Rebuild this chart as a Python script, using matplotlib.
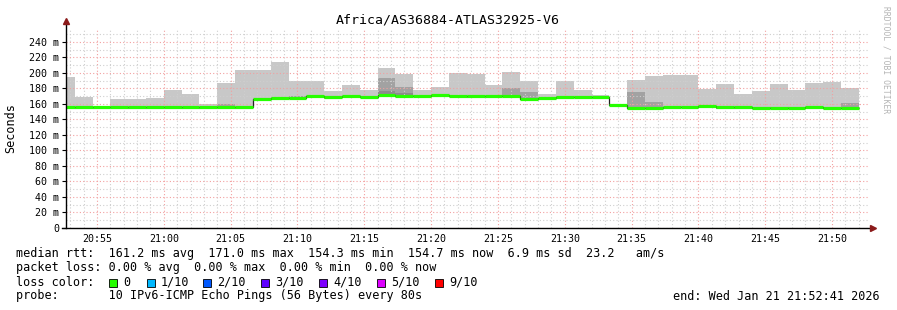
import numpy as np
import pandas as pd
import matplotlib
matplotlib.use('Agg')
import matplotlib.pyplot as plt
from matplotlib.patches import Rectangle

# the chart data (ms), one value per 80 s step
title = 'Africa/AS36884-ATLAS32925-V6'
t_start = pd.Timestamp('2026-01-21 20:52:41')
t_end = pd.Timestamp('2026-01-21 21:52:41')
first_step = pd.Timestamp('2026-01-21 20:52:00')
step_seconds = 80

rtt_median = [155.7, 155.5, 155.5, 155.5, 155.5, 155.5, 155.5, 155.5, 155.5, 155.5,
              155.5, 165.8, 168.0, 168.2, 169.7, 169.4, 169.7, 169.0, 171.0, 170.0,
              170.0, 171.0, 170.0, 169.7, 169.7, 170.7, 166.0, 167.4, 169.4, 168.8,
              168.5, 158.7, 154.3, 155.0, 155.7, 155.7, 157.0, 155.7, 155.5, 155.3,
              155.0, 155.0, 155.7, 155.0, 154.7]
rtt_min = [154.0, 154.0, 154.0, 154.0, 154.0, 154.0, 154.0, 154.0, 154.0, 154.0,
           154.0, 164.5, 165.0, 166.5, 168.0, 166.5, 168.0, 167.5, 169.5, 168.5,
           168.5, 169.5, 168.5, 168.0, 168.0, 169.0, 164.5, 166.0, 168.0, 167.3,
           167.0, 157.0, 153.0, 153.5, 154.2, 154.2, 155.5, 153.5, 154.0, 153.8,
           153.5, 153.5, 154.2, 153.5, 153.2]
rtt_max = [194.8, 169.5, 157.0, 166.5, 166.5, 167.7, 178.0, 173.0, 160.0, 187.0,
           204.0, 204.0, 214.0, 190.0, 189.0, 177.0, 184.5, 178.0, 206.5, 198.7,
           178.0, 182.0, 200.0, 198.7, 184.5, 201.0, 189.0, 172.5, 189.0, 178.5,
           171.6, 160.0, 191.4, 196.0, 197.4, 197.4, 179.8, 185.8, 173.0, 177.0,
           185.8, 178.5, 187.0, 188.4, 180.6]
# inner smoke bands (darker grey)
rtt_p9 = [156.5, 156.5, 156.5, 156.5, 156.5, 156.5, 156.5, 156.5, 156.5, 160.0,
          156.5, 166.5, 169.0, 170.0, 170.5, 170.0, 170.5, 170.0, 194.0, 182.0,
          171.0, 172.0, 171.0, 170.5, 170.5, 180.6, 175.5, 168.0, 170.0, 169.5,
          169.0, 159.5, 176.0, 162.0, 156.5, 156.5, 158.0, 156.5, 156.5, 156.0,
          156.0, 156.0, 156.5, 156.0, 161.0]
rtt_p8 = [156.0, 156.0, 156.0, 156.0, 156.0, 156.0, 156.0, 156.0, 156.0, 156.0,
          156.0, 166.0, 168.5, 169.0, 170.0, 169.5, 170.0, 169.5, 177.0, 174.0,
          170.5, 171.5, 170.5, 170.0, 170.0, 171.0, 167.0, 167.5, 169.5, 169.0,
          168.5, 159.0, 155.0, 155.5, 156.0, 156.0, 157.5, 156.0, 156.0, 155.5,
          155.5, 155.5, 156.0, 155.5, 155.0]

summary = 'median rtt:  161.2 ms avg  171.0 ms max  154.3 ms min  154.7 ms now  6.9 ms sd  23.2   am/s'
loss_line = 'packet loss: 0.00 % avg  0.00 % max  0.00 % min  0.00 % now'
probe_line = 'probe:       10 IPv6-ICMP Echo Pings (56 Bytes) every 80s'
end_line = 'end: Wed Jan 21 21:52:41 2026'
loss_labels = ['0', '1/10', '2/10', '3/10', '4/10', '5/10', '9/10']
loss_colors = ['#26ff00', '#00b8ff', '#0059ff', '#5e00ff', '#7e00ff', '#dd00ff', '#ff0000']
loss_box_x = [109, 147, 203, 261, 319, 377, 435]

yticks = list(range(0, 241, 20))
ytick_labels = ['0'] + ['%d m' % v for v in yticks[1:]]

# time -> minutes since start of window
def minutes(ts):
    return (ts - t_start).total_seconds() / 60.0

edges = pd.date_range(first_step, periods=len(rtt_median) + 1, freq='%ds' % step_seconds)
x_edges = np.array([minutes(t) for t in edges])
span = minutes(t_end)

major_times = pd.date_range('2026-01-21 20:55', '2026-01-21 21:50', freq='5min')
minor_times = pd.date_range('2026-01-21 20:53', '2026-01-21 21:52', freq='1min')

W, H = 897, 310
fig = plt.figure(figsize=(W / 100, H / 100), dpi=100)
fig.patch.set_facecolor('white')
mono = 'DejaVu Sans Mono'
plt.rcParams['font.family'] = mono

left, right, top, bottom = 66, 868, 28, 228
ax = fig.add_axes([left / W, 1 - bottom / H, (right - left) / W, (bottom - top) / H])
ax.set_xlim(0, span)
ax.set_ylim(0, 258)
for s in ax.spines.values():
    s.set_visible(False)

# smoke
ax.stairs(rtt_max, x_edges, baseline=rtt_min, fill=True, color='#c8c8c8', lw=0)
ax.stairs(rtt_p9, x_edges, baseline=rtt_min, fill=True, color='#a2a2a2', lw=0)
ax.stairs(rtt_p8, x_edges, baseline=rtt_min, fill=True, color='#8c8c8c', lw=0)

# median: black step plus loss coloured band
ax.stairs(rtt_median, x_edges, baseline=None, color='#202020', lw=0.9, zorder=3)
ax.hlines(rtt_median, x_edges[:-1], x_edges[1:], color='#26ff00', lw=2.3, zorder=4)

# grid
ax.set_axisbelow('line')
ax.set_xticks([minutes(t) for t in major_times])
ax.set_xticklabels([t.strftime('%H:%M') for t in major_times])
ax.set_xticks([minutes(t) for t in minor_times], minor=True)
ax.set_yticks(yticks)
ax.set_yticklabels(ytick_labels)
ax.set_yticks(range(10, 251, 20), minor=True)
ax.grid(which='major', color='#f2a0a0', ls=(0, (1, 2)), lw=0.8)
ax.grid(which='minor', color='#cfcfcf', ls=(0, (1, 2)), lw=0.8)
ax.tick_params(axis='y', which='major', length=3, width=0.8, pad=2, labelsize=7.2, direction='out')
ax.tick_params(axis='x', which='major', length=0, pad=4, labelsize=7.2)
ax.tick_params(which='minor', length=0)

# axes with arrows
ax.plot([0, 0], [0, 1.03], transform=ax.transAxes, color='black', lw=1, clip_on=False, zorder=5)
ax.plot([-4 / 802, 1.004], [0, 0], transform=ax.transAxes, color='black', lw=1, clip_on=False, zorder=5)
ax.plot([0], [1.035], transform=ax.transAxes, marker='^', ms=4.5, color='#8b1a1a', clip_on=False, zorder=6)
ax.plot([1.006], [0], transform=ax.transAxes, marker='>', ms=4.5, color='#8b1a1a', clip_on=False, zorder=6)

ax.set_ylabel('Seconds', fontsize=8.5)
ax.yaxis.label.set_va('center')
ax.yaxis.set_label_coords(-55 / 802, 0.5)

fig.text(448 / W, 1 - 20 / H, title, ha='center', va='center', fontsize=9.5, family=mono)
fig.text(886 / W, 1 - 60 / H, 'RRDTOOL / TOBI OETIKER', rotation=270, ha='center', va='center',
         fontsize=5.8, color='#b4b4b4', family=mono)

# legend
fs = 8.5
fig.text(16 / W, 1 - 254 / H, summary, ha='left', va='center', fontsize=fs, family=mono)
fig.text(16 / W, 1 - 268 / H, loss_line, ha='left', va='center', fontsize=fs, family=mono)
fig.text(16 / W, 1 - 282 / H, 'loss color:', ha='left', va='center', fontsize=fs, family=mono)
for bx, lab, col in zip(loss_box_x, loss_labels, loss_colors):
    fig.patches.append(Rectangle((bx / W, 1 - 287 / H), 8 / W, 8 / H, transform=fig.transFigure,
                                 facecolor=col, edgecolor='black', lw=0.6))
    fig.text((bx + 14) / W, 1 - 282 / H, lab, ha='left', va='center', fontsize=fs, family=mono)
fig.text(16 / W, 1 - 296 / H, probe_line, ha='left', va='center', fontsize=fs, family=mono)
fig.text(880 / W, 1 - 296 / H, end_line, ha='right', va='center', fontsize=fs, family=mono)

fig.savefig('out.png', dpi=100, facecolor='white')
